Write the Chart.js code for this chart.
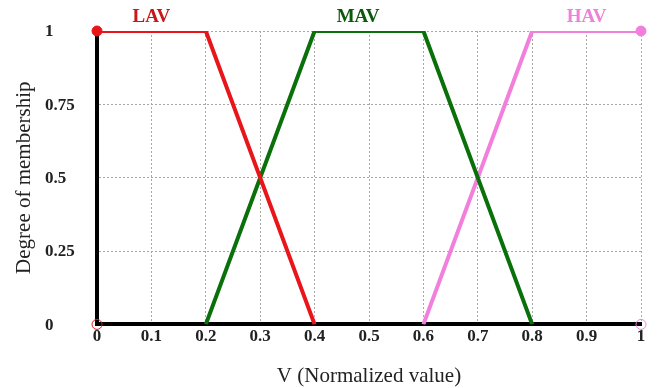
<!DOCTYPE html>
<html>
<head>
<meta charset="utf-8">
<script src="https://cdn.jsdelivr.net/npm/chart.js@4"></script>
<style>
  html, body { margin: 0; padding: 0; background: #fff; }
  #wrap { width: 672px; height: 388px; }
</style>
</head>
<body>
<div id="wrap"><canvas id="chart"></canvas></div>
<script>
// membership functions
const lavX = [0, 0.2, 0.4];
const lavY = [1, 1, 0];
const mavX = [0.2, 0.4, 0.6, 0.8];
const mavY = [0, 1, 1, 0];
const havX = [0.6, 0.8, 1];
const havY = [0, 1, 1];

const setNames = ["LAV", "MAV", "HAV"];
const setLabelX = [0.1, 0.48, 0.9];
const setColors = ["#e8161b", "#0a700a", "#f27fdc"];
const labelColors = ["#c8161b", "#0a5a0a", "#ee82d8"];

const xTicks = [0, 0.1, 0.2, 0.3, 0.4, 0.5, 0.6, 0.7, 0.8, 0.9, 1];
const yTicks = [0, 0.25, 0.5, 0.75, 1];

const toPoints = (xs, ys) => xs.map((x, i) => ({ x: x, y: ys[i] }));

const serif = "'Liberation Serif', 'DejaVu Serif', serif";
const tickFont = "bold 17px " + serif;

// set names above the top line, and left-aligned y tick labels
const extras = {
  id: "extras",
  afterDatasetsDraw(chart) {
    const { ctx, scales, chartArea } = chart;
    ctx.save();
    ctx.font = "bold 19px " + serif;
    ctx.textAlign = "center";
    ctx.textBaseline = "bottom";
    setNames.forEach((name, i) => {
      ctx.fillStyle = labelColors[i];
      ctx.fillText(name, scales.x.getPixelForValue(setLabelX[i]), scales.y.getPixelForValue(1) - 4);
    });
    ctx.font = tickFont;
    ctx.textAlign = "left";
    ctx.textBaseline = "middle";
    ctx.fillStyle = "#222";
    yTicks.forEach((v) => {
      ctx.fillText(String(v), chartArea.left - 52, scales.y.getPixelForValue(v) + 1);
    });
    ctx.restore();
  },
};

new Chart(document.getElementById("chart"), {
  type: "scatter",
  data: {
    datasets: [
      {
        label: "LAV",
        data: toPoints(lavX, lavY),
        showLine: true,
        borderColor: setColors[0],
        borderWidth: 4,
        pointRadius: 0,
      },
      {
        label: "MAV",
        data: toPoints(mavX, mavY),
        showLine: true,
        borderColor: setColors[1],
        borderWidth: 4,
        pointRadius: 0,
      },
      {
        label: "HAV",
        data: toPoints(havX, havY),
        showLine: true,
        borderColor: setColors[2],
        borderWidth: 4,
        pointRadius: 0,
      },
      {
        label: "ends",
        data: toPoints([0, 0, 1, 1], [1, 0, 1, 0]),
        showLine: false,
        clip: false,
        pointRadius: 5,
        pointBorderWidth: 1,
        pointBackgroundColor: [setColors[0], "rgba(0,0,0,0)", setColors[2], "rgba(0,0,0,0)"],
        pointBorderColor: [setColors[0], setColors[0], setColors[2], setColors[2]],
      },
    ],
  },
  options: {
    responsive: true,
    maintainAspectRatio: false,
    animation: false,
    layout: { padding: { top: 31, right: 31, left: 0, bottom: -1 } },
    plugins: {
      legend: { display: false },
      tooltip: { enabled: false },
    },
    scales: {
      x: {
        type: "linear",
        min: 0,
        max: 1,
        afterBuildTicks: (axis) => { axis.ticks = xTicks.map((v) => ({ value: v })); },
        ticks: {
          color: "#222",
          font: { family: serif, size: 17, weight: "bold" },
          padding: 2,
          maxRotation: 0,
          callback: (v) => String(v),
        },
        grid: {
          color: (c) => (c.tick && c.tick.value === 1 ? setColors[2] : "#a8a8a8"),
          lineWidth: 1,
          drawTicks: false,
        },
        border: { color: "#000", width: 4, dash: [2, 2] },
        title: {
          display: true,
          text: "V (Normalized value)",
          color: "#222",
          font: { family: serif, size: 21 },
          padding: { top: 15, bottom: 0 },
        },
      },
      y: {
        type: "linear",
        min: 0,
        max: 1,
        afterBuildTicks: (axis) => { axis.ticks = yTicks.map((v) => ({ value: v })); },
        afterFit: (axis) => { axis.width = 97; },
        ticks: { display: false },
        grid: {
          color: "#a8a8a8",
          lineWidth: 1,
          drawTicks: false,
        },
        border: { color: "#000", width: 4, dash: [2, 2] },
        title: {
          display: true,
          text: "Degree of membership",
          color: "#222",
          font: { family: serif, size: 21 },
          padding: { top: 12, bottom: 0 },
        },
      },
    },
  },
  plugins: [extras],
});
</script>
</body>
</html>
